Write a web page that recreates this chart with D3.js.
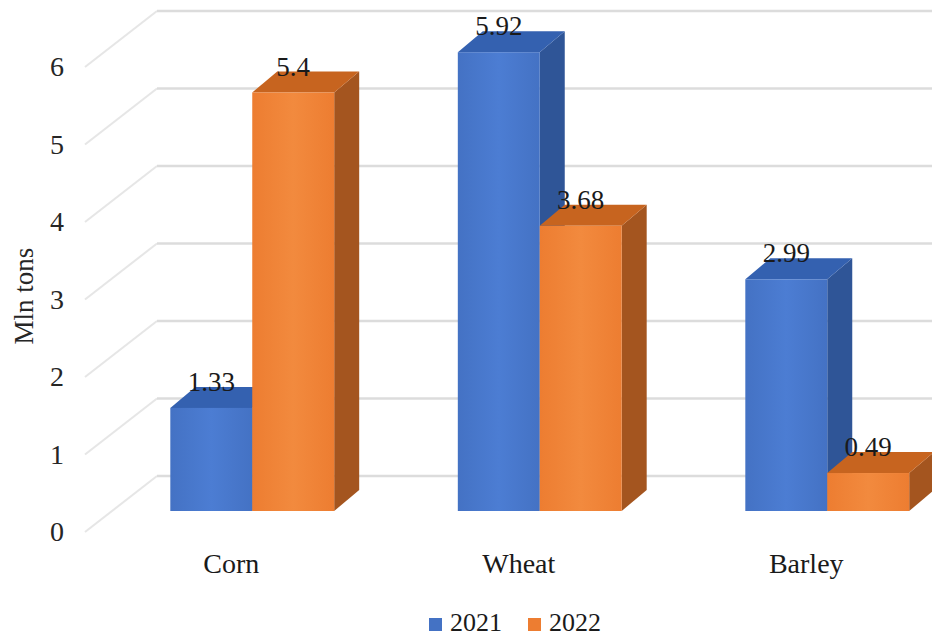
<!DOCTYPE html>
<html>
<head>
<meta charset="utf-8">
<script src="https://cdn.jsdelivr.net/npm/d3@7"></script>
<style>
html,body{margin:0;padding:0;background:#fff;}
svg{display:block;}
svg text{font-family:"Liberation Serif","Times New Roman","DejaVu Serif",serif;}
</style>
</head>
<body>
<svg id="chart" width="932" height="637"></svg>
<script>
const categories = ["Corn", "Wheat", "Barley"];
const seriesNames = ["2021", "2022"];
const values2021 = [1.33, 5.92, 2.99];
const values2022 = [5.4, 3.68, 0.49];
const tickValues = [0, 1, 2, 3, 4, 5, 6];

const seriesValues = [values2021, values2022];
const faceColors = [
  {front: "#4472C4", frontLight: "#4C7DD3", side: "#2F5597", top: "#3461B0"},
  {front: "#ED7D31", frontLight: "#F28A3E", side: "#A4551F", top: "#C7641F"}
];
const FONT = '"Liberation Serif","Times New Roman","DejaVu Serif",serif';

const W = 932, H = 637;
const svg = d3.select("#chart");

const wallDX = 72, wallDY = -56;
const barD0 = 0.375, barD1 = 0.75;

const yFront = d3.scaleLinear().domain([0, 6]).range([532, 67]);

const x0 = d3.scaleBand().domain(categories).range([108.5, 971]).paddingInner(0.43).paddingOuter(0.215);
const x1 = d3.scaleBand().domain(seriesNames).range([0, x0.bandwidth()]);

const wallLeft = 85;

const defs = svg.append("defs");
faceColors.forEach((c, i) => {
  const g = defs.append("linearGradient").attr("id", "grad" + i).attr("x1", "0").attr("x2", "1").attr("y1", "0").attr("y2", "0");
  g.append("stop").attr("offset", "0%").attr("stop-color", c.front);
  g.append("stop").attr("offset", "50%").attr("stop-color", c.frontLight);
  g.append("stop").attr("offset", "100%").attr("stop-color", c.front);
});

const grid = svg.append("g");
tickValues.forEach(t => {
  grid.append("line")
    .attr("x1", wallLeft).attr("y1", yFront(t))
    .attr("x2", wallLeft + wallDX).attr("y2", yFront(t) + wallDY)
    .attr("stroke", "#e6e6e6").attr("stroke-width", 2);
  grid.append("line")
    .attr("x1", wallLeft + wallDX).attr("y1", yFront(t) + wallDY)
    .attr("x2", W).attr("y2", yFront(t) + wallDY)
    .attr("stroke", "#dcdcdc").attr("stroke-width", 2.5);
});

const yAxis = d3.axisLeft(yFront).tickValues(tickValues).tickSize(0).tickPadding(8).tickFormat(d3.format("d"));
const ya = svg.append("g").attr("transform", "translate(72,0)").call(yAxis);
ya.attr("font-family", FONT);
ya.select(".domain").remove();
ya.selectAll("text").attr("font-family", FONT).attr("font-size", 28).attr("fill", "#262626");

svg.append("text")
  .attr("transform", "translate(33,296) rotate(-90)")
  .attr("text-anchor", "middle")
  .attr("font-family", FONT)
  .attr("font-size", 27).attr("fill", "#262626")
  .text("Mln tons");

const fdy = wallDY * barD0;
const ddx = 25, ddy = wallDY * (barD1 - barD0);
const yBar = v => yFront(v) + fdy;

const barsG = svg.append("g");
const labels = [];
categories.forEach((cat, ci) => {
  seriesNames.forEach((s, si) => {
    const v = seriesValues[si][ci];
    const x = x0(cat) + x1(s);
    const w = x1.bandwidth();
    const yt = yBar(v), yb = yBar(0);
    const c = faceColors[si];
    const g = barsG.append("g");
    g.append("polygon")
      .attr("points", [[x + w, yt], [x + w + ddx, yt + ddy], [x + w + ddx, yb + ddy], [x + w, yb]].map(p => p.join(",")).join(" "))
      .attr("fill", c.side);
    g.append("polygon")
      .attr("points", [[x, yt], [x + ddx, yt + ddy], [x + w + ddx, yt + ddy], [x + w, yt]].map(p => p.join(",")).join(" "))
      .attr("fill", c.top);
    g.append("rect")
      .attr("x", x).attr("y", yt).attr("width", w).attr("height", yb - yt)
      .attr("fill", "url(#grad" + si + ")");
    labels.push({x: x + w / 2, y: yt + ddy + 4, text: String(v)});
  });
});

svg.append("g").selectAll("text").data(labels).join("text")
  .attr("x", d => d.x).attr("y", d => d.y)
  .attr("text-anchor", "middle")
  .attr("font-family", FONT)
  .attr("font-size", 27).attr("fill", "#1a1a1a")
  .text(d => d.text);

svg.append("g").selectAll("text").data(categories).join("text")
  .attr("x", d => x0(d) + x0.bandwidth() / 2 - 21)
  .attr("y", 573)
  .attr("text-anchor", "middle")
  .attr("font-family", FONT)
  .attr("font-size", 28).attr("fill", "#1a1a1a")
  .text(d => d);

const legend = svg.append("g");
const legendX = [429, 528];
seriesNames.forEach((s, i) => {
  legend.append("rect").attr("x", legendX[i]).attr("y", 618).attr("width", 13).attr("height", 13).attr("fill", faceColors[i].front);
  legend.append("text").attr("x", legendX[i] + 21).attr("y", 631)
    .attr("font-family", FONT)
    .attr("font-size", 26).attr("fill", "#1a1a1a").text(s);
});
</script>
</body>
</html>
